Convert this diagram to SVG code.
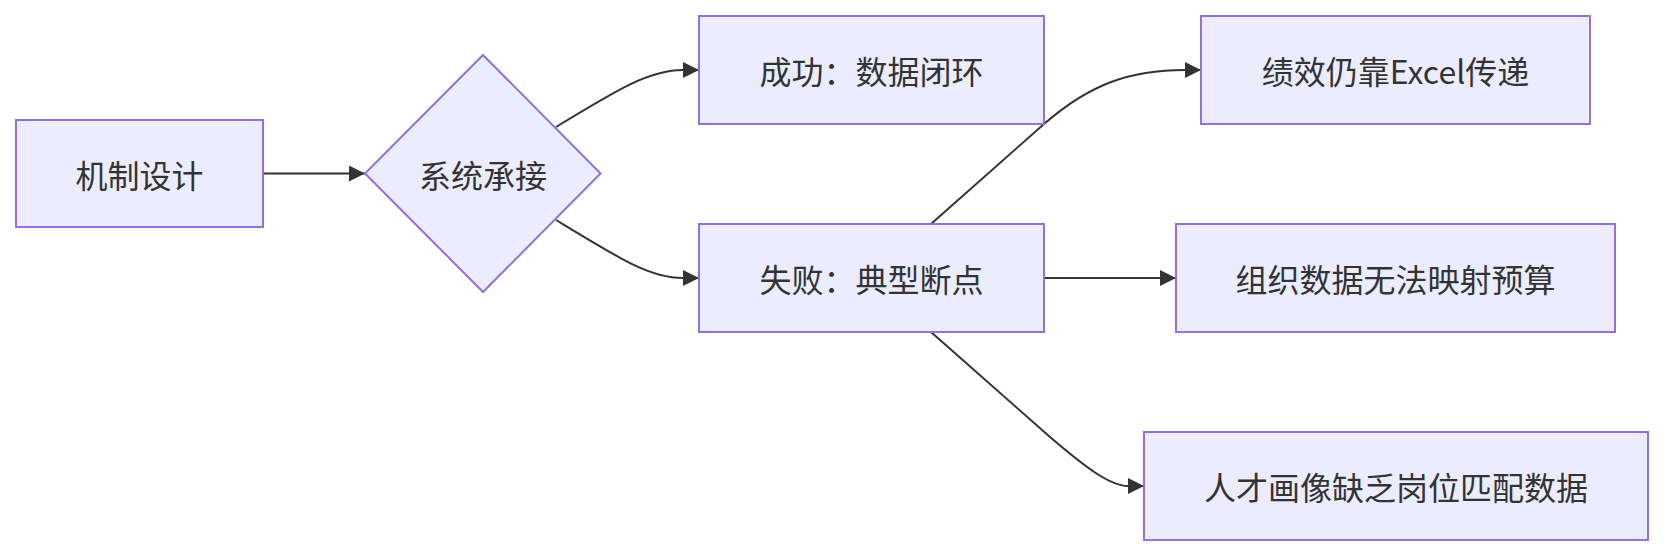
<svg xmlns="http://www.w3.org/2000/svg" width="1664" height="556" viewBox="0 0 1664 556">
<style>
.node rect,.node polygon{fill:#ECECFF;stroke:#9370DB;stroke-width:2}
.node text{font-family:"Noto Sans CJK SC","Noto Sans",sans-serif;font-size:32px;fill:#333;text-anchor:middle;dominant-baseline:central}
.edges path{fill:none;stroke:#333;stroke-width:2}
</style>
<defs>
<marker id="arrow" viewBox="0 0 10 10" refX="10" refY="5" markerUnits="userSpaceOnUse" markerWidth="16" markerHeight="16" orient="auto">
<path d="M0,0 L10,5 L0,10 z" fill="#333"/>
</marker>
</defs>
<g class="edges">
<path d="M263,173.5 L365,173.5" marker-end="url(#arrow)"/>
<path d="M556,127 C620,88 650,70 683,70 L699,70" marker-end="url(#arrow)"/>
<path d="M556,220 C620,259 650,278 683,278 L699,278" marker-end="url(#arrow)"/>
<path d="M931,224 L1044,124 C1090,84 1130,70 1185,70 L1201,70" marker-end="url(#arrow)"/>
<path d="M1044,278 L1176,278" marker-end="url(#arrow)"/>
<path d="M931,332 L1050,437 C1085,467 1110,486 1128,486 L1144,486" marker-end="url(#arrow)"/>
</g>
<g id="A" class="node"><rect x="16" y="120" width="247" height="107"/><text x="139.5" y="173.5">机制设计</text></g>
<g id="B" class="node"><polygon points="483,55 600.6,173.5 483,292 365,173.5"/><text x="483" y="173.5">系统承接</text></g>
<g id="C" class="node"><rect x="699" y="16" width="345" height="108"/><text x="871.5" y="70">成功：数据闭环</text></g>
<g id="D" class="node"><rect x="699" y="224" width="345" height="108"/><text x="871.5" y="278">失败：典型断点</text></g>
<g id="E" class="node"><rect x="1201" y="16" width="389" height="108"/><text x="1395.5" y="70">绩效仍靠Excel传递</text></g>
<g id="F" class="node"><rect x="1176" y="224" width="439" height="108"/><text x="1395.5" y="278">组织数据无法映射预算</text></g>
<g id="G" class="node"><rect x="1144" y="432" width="504" height="108"/><text x="1396" y="486">人才画像缺乏岗位匹配数据</text></g>
</svg>
